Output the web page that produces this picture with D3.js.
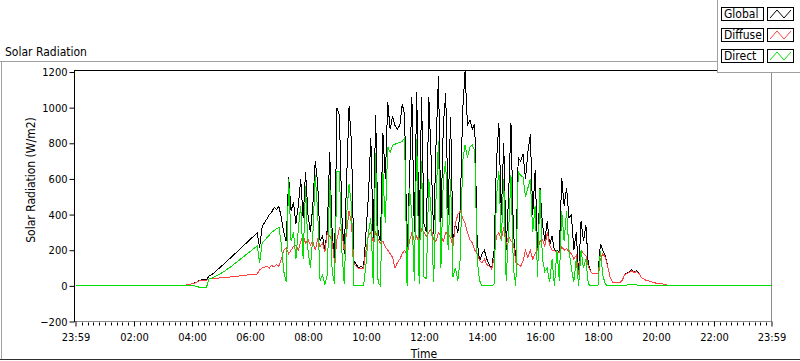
<!DOCTYPE html>
<html>
<head>
<meta charset="utf-8">
<script src="https://cdn.jsdelivr.net/npm/d3@7"></script>
<style>
  body { margin: 0; background: #fff; }
  svg { display: block; font-family: "DejaVu Sans Condensed", "DejaVu Sans", sans-serif; }
</style>
</head>
<body>
<svg id="chart" width="800" height="361"></svg>
<script>
// series names / colours
const seriesNames = ["Global", "Diffuse", "Direct"];
const seriesColors = ["#000000", "#ff4040", "#00e000"];

// samples every 5 minutes from 03:30, outside that window the sensors read 0
const startMinute = 210;
const stepMinutes = 5;

const globalRad = [
  0, 0, 2, 4, 6, 8, 12, 16, 22, 30, 34, 35,
  33, 56, 62, 72, 84, 96, 108, 120, 132, 145, 158, 170,
  183, 196, 208, 221, 234, 247, 260, 272, 285, 297, 215, 330,
  355, 375, 400, 415, 440, 430, 445, 380, 300, 250, 610, 420,
  470, 350, 450, 600, 380, 640, 400, 300, 450, 700, 580, 250,
  280, 200, 320, 750, 300, 140, 1000, 960, 400, 180, 600, 1008,
  800, 140, 120, 100, 110, 100, 300, 500, 830, 260, 960, 300,
  250, 860, 600, 1030, 880, 950, 900, 880, 900, 1020, 960, 180,
  600, 1060, 300, 1090, 250, 1060, 350, 300, 1060, 700, 290, 800,
  1176, 350, 900, 1080, 400, 950, 250, 350, 300, 420, 980, 1204,
  900, 930, 880, 910, 250, 140, 180, 200, 150, 120, 95, 200,
  700, 913, 400, 800, 200, 500, 913, 300, 150, 720, 700, 740,
  600, 750, 850, 400, 650, 200, 550, 350, 250, 364, 230, 280,
  196, 200, 190, 605, 450, 550, 380, 400, 200, 300, 65, 364,
  250, 340, 120, 80, 67, 67, 70, 235, 200, 170, 110, 50,
  20, 17, 17, 18, 30, 65, 72, 80, 90, 78, 85, 70,
  45, 40, 30, 28, 22, 20, 15, 12, 14, 10, 6, 4,
  2, 0, 0
];

const diffuseRad = [
  0, 0, 2, 4, 6, 8, 12, 15, 20, 27, 30, 32,
  30, 38, 40, 41, 42, 44, 45, 46, 48, 49, 50, 52,
  53, 55, 56, 58, 59, 61, 62, 64, 65, 67, 90, 100,
  105, 110, 100, 115, 105, 120, 110, 150, 200, 213, 180, 200,
  220, 230, 200, 250, 280, 240, 260, 230, 250, 200, 260, 220,
  240, 190, 300, 280, 250, 130, 260, 325, 300, 200, 300, 420,
  350, 125, 110, 95, 95, 100, 200, 280, 300, 250, 300, 260,
  240, 250, 220, 200, 180, 160, 100, 130, 150, 180, 200, 170,
  250, 300, 250, 280, 240, 320, 300, 280, 300, 320, 260, 250,
  300, 280, 250, 300, 290, 270, 220, 350, 400, 420, 380, 350,
  300, 260, 240, 200, 180, 140, 130, 150, 120, 110, 95, 150,
  280, 300, 260, 330, 230, 280, 250, 240, 130, 120, 110, 140,
  200, 160, 200, 150, 180, 200, 250, 260, 220, 300, 230, 200,
  196, 190, 185, 220, 200, 210, 190, 180, 150, 170, 60, 200,
  180, 170, 110, 80, 67, 67, 70, 150, 180, 160, 110, 50,
  20, 17, 17, 18, 30, 62, 70, 75, 85, 75, 80, 68,
  45, 40, 30, 28, 22, 20, 15, 12, 14, 10, 6, 4,
  2, 0, 0
];

const directRad = [
  0, 0, 0, 0, 0, 0, 0, 0, -3, -8, -10, -10,
  -8, 38, 42, 48, 55, 62, 70, 78, 88, 97, 107, 117,
  128, 138, 149, 160, 171, 182, 192, 203, 214, 224, 128, 240,
  255, 270, 285, 300, 310, 320, 330, 230, 80, 20, 600, 250,
  300, 150, 320, 450, 150, 560, 200, 100, 280, 620, 420, 30,
  60, 10, 60, 600, 80, 10, 640, 640, 200, 10, 400, 570,
  450, 0, 0, 0, 0, 0, 120, 300, 380, 10, 745, 20,
  0, 640, 350, 780, 750, 790, 795, 800, 805, 810, 830, 0,
  550, 400, 30, 823, 10, 700, 50, 40, 600, 400, 20, 500,
  812, 100, 600, 700, 200, 600, 50, 100, 30, 150, 700, 790,
  720, 780, 790, 760, 150, 30, 0, 0, 0, 0, 0, 10,
  500, 644, 250, 600, 30, 300, 620, 100, 0, 640, 620, 610,
  500, 550, 600, 300, 450, 50, 545, 150, 80, 100, 20, 150,
  0, 200, 30, 420, 250, 420, 200, 100, 20, 150, 0, 200,
  100, 150, 10, 0, 0, 0, 0, 196, 60, 10, 0, 0,
  0, 0, 0, 0, 2, 3, 5, 8, 10, 6, 5, 4,
  4, 3, 3, 2, 2, 2, 1, 1, 0, 0, 0, 0,
  0, 0, 0
];

// axis ticks (minutes from midnight; the chart runs 23:59 -> 23:59)
const xDomainMinutes = [-1, 1439];
const xTickMinutes = [-1, 120, 240, 360, 480, 600, 720, 840, 960, 1080, 1200, 1320, 1439];
const xTickLabels = ["23:59", "02:00", "04:00", "06:00", "08:00", "10:00", "12:00",
                     "14:00", "16:00", "18:00", "20:00", "22:00", "23:59"];
const yTicks = [-200, 0, 200, 400, 600, 800, 1000, 1200];

const svg = d3.select("#chart");
const plot = { left: 75.5, right: 771.5, top: 71, bottom: 321.5 };

const x = d3.scaleLinear().domain(xDomainMinutes).range([plot.left, plot.right]);
const y = d3.scaleLinear().domain([-200, 1200]).range([plot.bottom, 72]);

// outer panel frame
svg.append("line").attr("x1", 0).attr("x2", 717).attr("y1", 61.5).attr("y2", 61.5).attr("stroke", "#a0a0a0");
svg.append("line").attr("x1", 1.5).attr("x2", 1.5).attr("y1", 61).attr("y2", 360).attr("stroke", "#a0a0a0");
svg.append("line").attr("x1", 0).attr("x2", 800).attr("y1", 359.5).attr("y2", 359.5).attr("stroke", "#303030");

svg.append("text").attr("x", 5).attr("y", 56).attr("font-size", 12).text("Solar Radiation");

// plot frame
svg.append("line").attr("x1", 74).attr("x2", 772).attr("y1", 70.5).attr("y2", 70.5).attr("stroke", "#000");
svg.append("line").attr("x1", 771.5).attr("x2", 771.5).attr("y1", 70).attr("y2", 322).attr("stroke", "#8c8c8c");

svg.append("defs").append("clipPath").attr("id", "clip")
  .append("rect").attr("x", plot.left).attr("y", 70).attr("width", plot.right - plot.left).attr("height", 252);

// data lines
const allSeries = [globalRad, diffuseRad, directRad].map(vals => {
  const pts = [{ t: xDomainMinutes[0], v: 0 }];
  vals.forEach((v, i) => pts.push({ t: startMinute + i * stepMinutes, v }));
  pts.push({ t: xDomainMinutes[1], v: 0 });
  return pts;
});

const line = d3.line().x(d => x(d.t)).y(d => y(d.v));

svg.append("g").attr("clip-path", "url(#clip)")
  .selectAll("path")
  .data(allSeries)
  .join("path")
  .attr("d", line)
  .attr("fill", "none")
  .attr("stroke", (d, i) => seriesColors[i])
  .attr("stroke-width", 1)
  .attr("shape-rendering", "crispEdges");

// x axis
const xAxisG = svg.append("g").attr("transform", `translate(0,${plot.bottom})`);
xAxisG.append("line").attr("x1", 74).attr("x2", 772).attr("stroke", "#8c8c8c");
const minorMinutes = d3.range(0, 1440, 12).filter(m => m % 120 !== 0);
xAxisG.selectAll(".minor").data(minorMinutes).join("line")
  .attr("class", "minor")
  .attr("x1", d => Math.round(x(d)) + 0.5).attr("x2", d => Math.round(x(d)) + 0.5)
  .attr("y1", 1).attr("y2", 4).attr("stroke", "#000");
xAxisG.call(d3.axisBottom(x).tickValues(xTickMinutes).tickSize(5).tickPadding(7)
    .tickFormat((d, i) => xTickLabels[i]))
  .attr("font-family", null).attr("font-size", 11)
  .call(g => g.select(".domain").remove())
  .call(g => g.selectAll("text").attr("fill", "#000"))
  .call(g => g.selectAll(".tick line").attr("stroke", "#000"));

// y axis
const yAxisG = svg.append("g").attr("transform", "translate(74.5,0)");
yAxisG.call(d3.axisLeft(y).tickValues(yTicks).tickSize(5).tickPadding(2).tickFormat(d3.format("d")))
  .attr("font-family", null).attr("font-size", 11)
  .call(g => g.select(".domain").remove())
  .call(g => g.selectAll("text").attr("fill", "#000"))
  .call(g => g.selectAll(".tick line").attr("stroke", "#000"));
yAxisG.append("line").attr("y1", 70).attr("y2", 322).attr("stroke", "#000");

// axis titles
svg.append("text").attr("transform", "translate(35,180) rotate(-90)")
  .attr("text-anchor", "middle").attr("font-size", 12).text("Solar Radiation (W/m2)");
svg.append("text").attr("x", 424).attr("y", 358)
  .attr("text-anchor", "middle").attr("font-size", 12).text("Time");

// legend
const legend = svg.append("g");
legend.append("rect").attr("x", 717.5).attr("y", -1).attr("width", 84).attr("height", 73.5)
  .attr("fill", "#fff").attr("stroke", "#a0a0a0");
const swatchLine = d3.line();
seriesNames.forEach((name, i) => {
  const y0 = 7 + i * 21;
  legend.append("rect").attr("x", 721.5).attr("y", y0 + 0.5).attr("width", 42).attr("height", 13)
    .attr("fill", "#fff").attr("stroke", "#000");
  legend.append("text").attr("x", 724).attr("y", y0 + 11).attr("font-size", 12).text(name);
  legend.append("rect").attr("x", 767.5).attr("y", y0 + 0.5).attr("width", 26).attr("height", 13)
    .attr("fill", "#fff").attr("stroke", "#000");
  legend.append("path")
    .attr("d", swatchLine([[770, y0 + 11], [777, y0 + 3], [784, y0 + 11], [791, y0 + 3]]))
    .attr("fill", "none").attr("stroke", seriesColors[i]);
});
</script>
</body>
</html>
